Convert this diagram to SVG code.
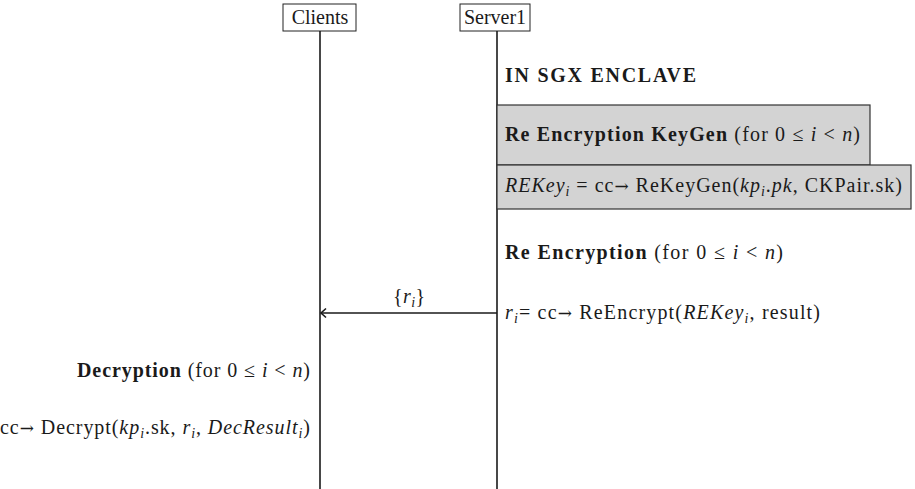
<svg xmlns="http://www.w3.org/2000/svg" width="915" height="489" viewBox="0 0 915 489">
  <style>
    text { font-family: "Liberation Serif", "DejaVu Serif", serif; font-size: 20px; fill: #1a1a1a; }
    .b { font-weight: bold; }
    .it { font-style: italic; }
    .sub { font-size: 14px; font-style: italic; }
    .arr { font-family: "DejaVu Serif", serif; font-size: 17px; }
    .head { fill: #ffffff; stroke: #222222; stroke-width: 1; }
    .life { stroke: #1a1a1a; stroke-width: 1.6; fill: none; }
    .step { fill: #d3d3d3; stroke: #333333; stroke-width: 1.2; }
    .msg { stroke: #1a1a1a; stroke-width: 1.6; fill: none; }
  </style>

  <!-- participants -->
  <g id="clients">
    <rect class="head" x="283" y="4" width="73" height="27"/>
    <text x="320" y="24" text-anchor="middle">Clients</text>
  </g>
  <g id="server1">
    <rect class="head" x="460" y="4" width="70" height="27"/>
    <text x="495" y="24" text-anchor="middle">Server1</text>
  </g>

  <!-- lifelines and messages -->
  <g id="connectors">
    <line class="life" x1="320" y1="31" x2="320" y2="489"/>
    <line class="life" x1="497" y1="31" x2="497" y2="489"/>
    <line class="msg" x1="497" y1="313" x2="321" y2="313"/>
    <path class="msg" d="M326,308.5 L321,313 L326,317.5" stroke-width="1.3"/>
  </g>

  <!-- enclave section -->
  <g id="enclave-title">
    <text class="b" x="505" y="82" textLength="191">IN SGX ENCLAVE</text>
  </g>

  <g id="rekeygen-step">
    <rect class="step" x="497" y="105" width="373" height="60"/>
    <text x="505" y="141" textLength="355"><tspan class="b">Re Encryption KeyGen</tspan> (for 0 ≤ <tspan class="it">i</tspan> &lt; <tspan class="it">n</tspan>)</text>
  </g>

  <g id="rekey-step">
    <rect class="step" x="497" y="165" width="414" height="44"/>
    <text x="505" y="192" textLength="397"><tspan class="it">REKey</tspan><tspan class="sub" dy="4">i</tspan><tspan dy="-4"> = cc</tspan><tspan class="arr">→</tspan> ReKeyGen(<tspan class="it">kp</tspan><tspan class="sub" dy="4">i</tspan><tspan dy="-4">.</tspan><tspan class="it">pk</tspan>, CKPair.sk)</text>
  </g>

  <g id="reencrypt-title">
    <text x="505" y="259" textLength="278"><tspan class="b">Re Encryption</tspan>   (for 0 ≤ <tspan class="it">i</tspan> &lt; <tspan class="it">n</tspan>)</text>
  </g>

  <g id="reencrypt-step">
    <text x="505" y="319" textLength="315"><tspan class="it">r</tspan><tspan class="sub" dy="4">i</tspan><tspan dy="-4">= cc</tspan><tspan class="arr">→</tspan> ReEncrypt(<tspan class="it">REKey</tspan><tspan class="sub" dy="4">i</tspan><tspan dy="-4">, result)</tspan></text>
  </g>

  <g id="msg-label">
    <text x="393" y="303" textLength="32">{<tspan class="it">r</tspan><tspan class="sub" dy="4">i</tspan><tspan dy="-4">}</tspan></text>
  </g>

  <!-- client side -->
  <g id="decryption-title">
    <text x="310" y="377" text-anchor="end" textLength="233"><tspan class="b">Decryption</tspan> (for 0 ≤ <tspan class="it">i</tspan> &lt; <tspan class="it">n</tspan>)</text>
  </g>

  <g id="decrypt-step">
    <text x="310" y="434" text-anchor="end" textLength="310">cc<tspan class="arr">→</tspan> Decrypt(<tspan class="it">kp</tspan><tspan class="sub" dy="4">i</tspan><tspan dy="-4">.sk, </tspan><tspan class="it">r</tspan><tspan class="sub" dy="4">i</tspan><tspan dy="-4">, </tspan><tspan class="it">DecResult</tspan><tspan class="sub" dy="4">i</tspan><tspan dy="-4">)</tspan></text>
  </g>
</svg>
